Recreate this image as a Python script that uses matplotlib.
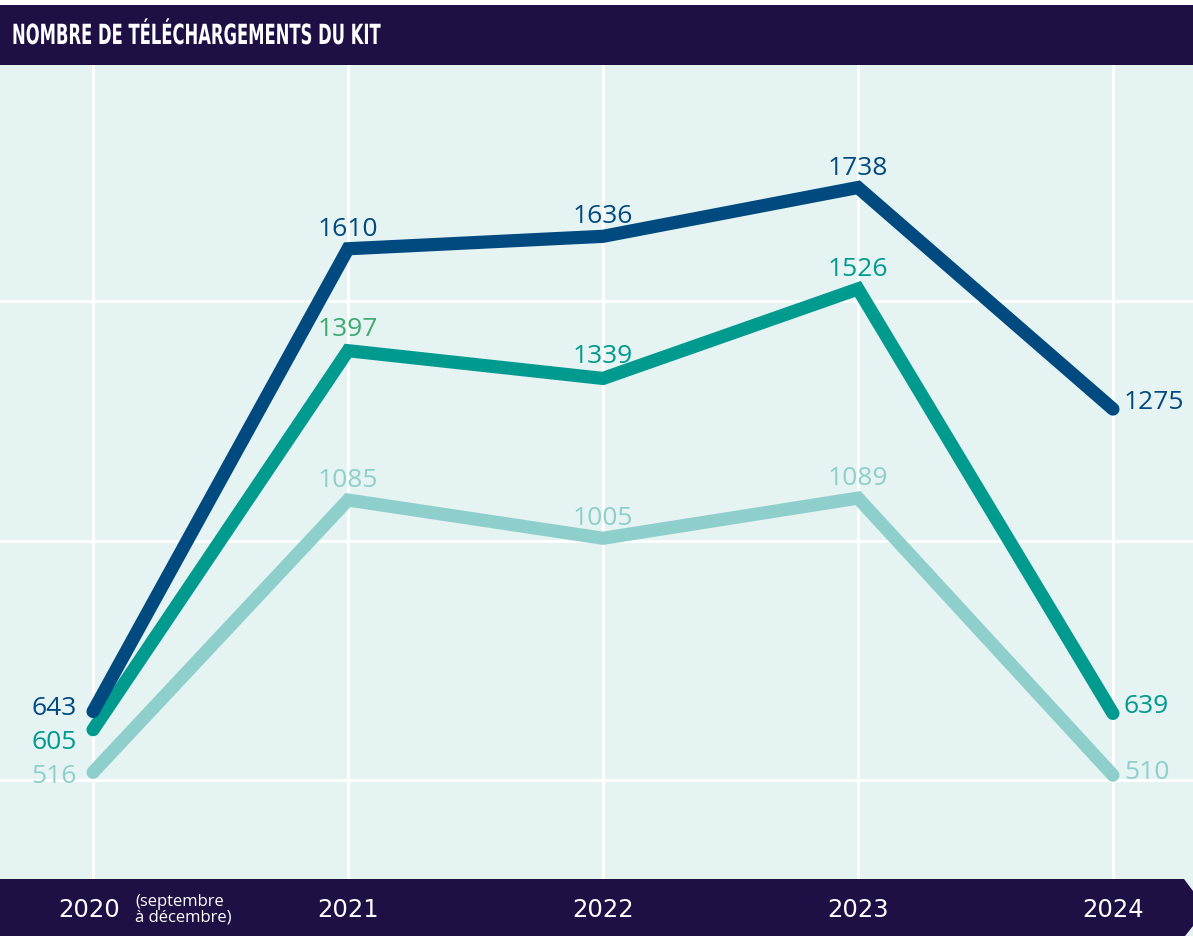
import matplotlib
matplotlib.use('Agg')
import matplotlib.pyplot as plt
import matplotlib.patches as mpatches
import matplotlib.transforms as mtransforms
from matplotlib.patheffects import AbstractPathEffect

# ---- Data ----
years = ['2020', '2021', '2022', '2023', '2024']
series_dark = [643, 1610, 1636, 1738, 1275]
series_mid = [605, 1397, 1339, 1526, 639]
series_light = [516, 1085, 1005, 1089, 510]

# ---- Colors ----
C_NAVY = '#1e0f45'
C_BG = '#e6f3f3'
C_DARK = '#004a80'
C_MID = '#009a8f'
C_LIGHT = '#8fcfcb'
C_GREEN_LBL = '#3dab70'


class HScale(AbstractPathEffect):
    """Squeeze glyphs horizontally (condensed look for the title)."""

    def __init__(self, sx):
        super().__init__()
        self.sx = sx

    def draw_path(self, renderer, gc, tpath, affine, rgbFace=None):
        renderer.draw_path(gc, tpath, mtransforms.Affine2D().scale(self.sx, 1) + affine,
                           rgbFace)


W, H = 1193, 937
fig = plt.figure(figsize=(W / 100, H / 100), dpi=100)
fig.patch.set_facecolor('white')

# overlay axes in pixel coordinates for header / footer bars
ov = fig.add_axes([0, 0, 1, 1], zorder=0)
ov.set_xlim(0, W)
ov.set_ylim(H, 0)
ov.axis('off')
ov.add_patch(mpatches.Rectangle((0, 66), W, H - 66, color=C_BG, lw=0))
ov.add_patch(mpatches.Rectangle((0, 6), W, 60, color=C_NAVY, lw=0))
ov.add_patch(mpatches.Polygon([(0, 880), (1184, 880), (1193, 892), (1193, 927),
                               (1185, 937), (0, 937)], closed=True,
                              color=C_NAVY, lw=0))
ov.text(12, 37, 'NOMBRE DE TÉLÉCHARGEMENTS DU KIT', color='white',
        fontsize=20, fontweight='bold', family='DejaVu Sans',
        va='center', ha='left', path_effects=[HScale(0.59)])

# main plot axes
ax = fig.add_axes([0, (H - 880) / H, 1, (880 - 66) / H], zorder=1)
ax.set_facecolor(C_BG)
ax.set_xlim(-0.365, 4.314)
ax.set_ylim(293, 1994)
for s in ax.spines.values():
    s.set_visible(False)
ax.set_xticks(range(len(years)))
ax.set_yticks([500, 1000, 1500])
ax.tick_params(length=0, labelbottom=False, labelleft=False)
ax.grid(True, color='white', linewidth=2.2)
ax.set_axisbelow(True)

x = list(range(len(years)))
for vals, col in [(series_light, C_LIGHT), (series_mid, C_MID), (series_dark, C_DARK)]:
    ax.plot(x, vals, color=col, linewidth=9.5, solid_capstyle='round',
            solid_joinstyle='miter', zorder=3)

FONT = ['Open Sans', 'DejaVu Sans']
FS = 19


def lbl(xi, v, col, where, dy=0):
    if where == 'left':
        t = mtransforms.offset_copy(ax.transData, fig=fig, x=-16, y=dy, units='dots')
        ax.text(xi, v, str(v), transform=t, color=col, fontsize=FS, family=FONT,
                ha='right', va='center')
    elif where == 'right':
        t = mtransforms.offset_copy(ax.transData, fig=fig, x=11, y=dy, units='dots')
        ax.text(xi, v, str(v), transform=t, color=col, fontsize=FS, family=FONT,
                ha='left', va='center')
    else:
        t = mtransforms.offset_copy(ax.transData, fig=fig, x=0, y=8 + dy, units='dots')
        ax.text(xi, v, str(v), transform=t, color=col, fontsize=FS, family=FONT,
                ha='center', va='bottom')


# dark series
lbl(0, series_dark[0], C_DARK, 'left', 4)
for i in (1, 2, 3):
    lbl(i, series_dark[i], C_DARK, 'above')
lbl(4, series_dark[4], C_DARK, 'right', 8)
# mid series
lbl(0, series_mid[0], C_MID, 'left', -12)
lbl(1, series_mid[1], C_GREEN_LBL, 'above', 2)
lbl(2, series_mid[2], C_MID, 'above', 2)
lbl(3, series_mid[3], C_MID, 'above')
lbl(4, series_mid[4], C_MID, 'right', 8)
# light series
lbl(0, series_light[0], C_LIGHT, 'left', -3)
for i in (1, 2, 3):
    lbl(i, series_light[i], C_LIGHT, 'above')
lbl(4, series_light[4], C_LIGHT, 'right', 4)

# year labels in the footer bar
bt = mtransforms.blended_transform_factory(ax.transData, ax.transAxes)
ybar = -(910 - 880) / (880 - 66)
for i, y in enumerate(years):
    ax.text(i - (0.015 if i == 0 else 0), ybar, y, transform=bt, color='white',
            fontsize=17.5, family='DejaVu Sans', ha='center', va='center',
            clip_on=False)
ax.text(0.165, ybar, '(septembre\nà décembre)', transform=bt, color='white',
        fontsize=12, family=FONT, ha='left', va='center', linespacing=0.95,
        clip_on=False)

fig.savefig('out.png', dpi=100)
